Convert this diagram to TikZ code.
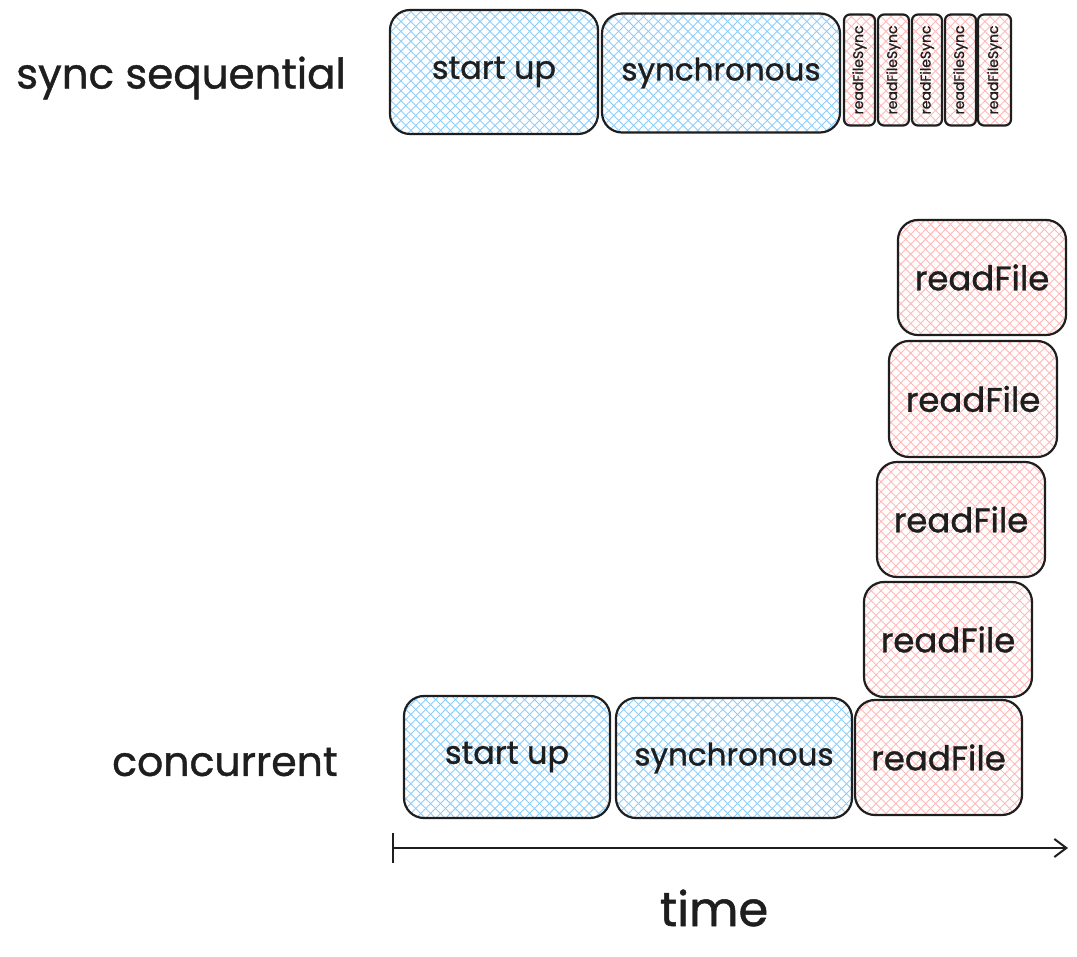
\documentclass[tikz,border=0pt]{standalone}
\usepackage{fontspec}
\setmainfont{Poppins}[FakeBold=1]
\usetikzlibrary{patterns.meta,arrows.meta}
\definecolor{ink}{HTML}{1E1E1E}
\definecolor{bluehatch}{HTML}{8ECDFA}
\definecolor{pinkhatch}{HTML}{FFB8B8}
\tikzset{
  box/.style={draw=ink, line width=2.2pt, rounded corners=20pt, inner sep=0pt, text=ink},
  bluebox/.style={box,
    preaction={pattern={Lines[angle=45,distance=7pt,line width=0.9pt]}, pattern color=bluehatch},
    preaction={pattern={Lines[angle=-45,distance=7pt,line width=0.9pt]}, pattern color=bluehatch},
    font=\fontsize{32}{34}\selectfont},
  pinkbox/.style={box,
    preaction={pattern={Lines[angle=45,distance=7pt,line width=0.9pt]}, pattern color=pinkhatch},
    preaction={pattern={Lines[angle=-45,distance=7pt,line width=0.9pt]}, pattern color=pinkhatch},
    font=\fontsize{34}{36}\selectfont},
  smallbox/.style={pinkbox, rounded corners=6pt, font=\fontsize{14}{15}\selectfont},
  label/.style={text=ink, inner sep=0pt},
}
\begin{document}
\begin{tikzpicture}[x=1pt,y=-1pt]
\useasboundingbox (0,0) rectangle (1077,957);
% top row
\node[label, font=\fontsize{42}{46}\selectfont] (lsync) at (181,78) {sync sequential};
\node[bluebox, minimum width=208pt, minimum height=124pt] (su1) at (494,72) {start up};
\node[bluebox, minimum width=238pt, minimum height=119pt, font=\fontsize{31}{33}\selectfont] (sy1) at (721,73) {synchronous};
\node[smallbox, minimum width=31pt, minimum height=111pt] (rs1) at (859.5,70) {\rotatebox{90}{readFileSync}};
\node[smallbox, minimum width=31pt, minimum height=111pt] (rs2) at (893.5,70) {\rotatebox{90}{readFileSync}};
\node[smallbox, minimum width=30pt, minimum height=111pt] (rs3) at (927,70) {\rotatebox{90}{readFileSync}};
\node[smallbox, minimum width=31pt, minimum height=111pt] (rs4) at (960.5,70) {\rotatebox{90}{readFileSync}};
\node[smallbox, minimum width=33pt, minimum height=111pt] (rs5) at (994.5,70) {\rotatebox{90}{readFileSync}};
% bottom
\node[label, font=\fontsize{41}{45}\selectfont] (lconc) at (225,762) {concurrent};
\node[bluebox, minimum width=206pt, minimum height=122pt] (su2) at (507,757) {start up};
\node[bluebox, minimum width=236pt, minimum height=120pt, font=\fontsize{31}{33}\selectfont] (sy2) at (734,758) {synchronous};
\node[pinkbox, minimum width=167pt, minimum height=115pt] (rf1) at (938.5,757.5) {readFile};
\node[pinkbox, minimum width=168pt, minimum height=115pt] (rf2) at (948,639.5) {readFile};
\node[pinkbox, minimum width=168pt, minimum height=115pt] (rf3) at (961,519.5) {readFile};
\node[pinkbox, minimum width=168pt, minimum height=116pt] (rf4) at (973,399) {readFile};
\node[pinkbox, minimum width=168pt, minimum height=115pt] (rf5) at (982,277.5) {readFile};
% time axis
\coordinate (t0) at (393,848);
\coordinate (t1) at (1068,848);
\draw[ink, line width=2.4pt, -{Straight Barb[length=12pt,width=18pt,line width=2pt]}] (t0) -- (t1);
\draw[ink, line width=1.6pt] (t0) ++(0,-15) -- ++(0,30);
\node[label, font=\fontsize{48}{52}\selectfont] (ltime) at (714,908) {time};
\end{tikzpicture}
\end{document}
